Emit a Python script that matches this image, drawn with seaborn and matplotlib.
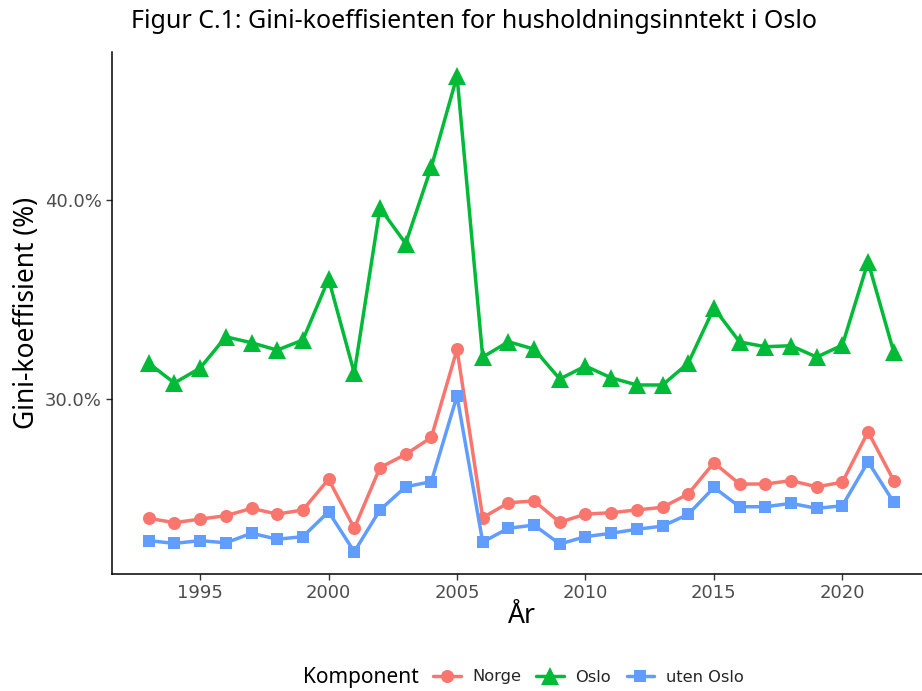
import matplotlib
matplotlib.use("Agg")
import matplotlib.pyplot as plt
import seaborn as sns
import pandas as pd
from matplotlib.lines import Line2D
from matplotlib.ticker import FuncFormatter

years = list(range(1993, 2023))
norge = [24.03, 23.81, 23.99, 24.16, 24.53, 24.24, 24.45, 25.99, 23.53, 26.57,
         27.24, 28.09, 32.51, 24.06, 24.81, 24.90, 23.83, 24.24, 24.31, 24.45,
         24.58, 25.25, 26.82, 25.75, 25.75, 25.92, 25.61, 25.84, 28.37, 25.92]
oslo = [31.81, 30.82, 31.57, 33.14, 32.84, 32.47, 32.98, 36.04, 31.32, 39.60,
        37.82, 41.66, 46.22, 32.12, 32.89, 32.52, 31.02, 31.67, 31.08, 30.72,
        30.72, 31.82, 34.58, 32.88, 32.64, 32.69, 32.12, 32.72, 36.90, 32.37]
uten_oslo = [22.91, 22.77, 22.91, 22.80, 23.28, 22.98, 23.11, 24.36, 22.35, 24.45,
             25.61, 25.87, 30.17, 22.84, 23.53, 23.69, 22.74, 23.11, 23.28, 23.48,
             23.64, 24.23, 25.58, 24.61, 24.61, 24.78, 24.53, 24.66, 26.87, 24.83]
components = ["Norge", "Oslo", "uten Oslo"]
x_ticks = [1995, 2000, 2005, 2010, 2015, 2020]
y_ticks = [30, 40]

df = pd.DataFrame({
    "År": years * 3,
    "Gini": norge + oslo + uten_oslo,
    "Komponent": ["Norge"] * len(years) + ["Oslo"] * len(years) + ["uten Oslo"] * len(years),
})

colors = {"Norge": "#F8766D", "Oslo": "#00BA38", "uten Oslo": "#619CFF"}
markers = {"Norge": "o", "Oslo": "^", "uten Oslo": "s"}
msizes = {"Norge": 9.4, "Oslo": 12.5, "uten Oslo": 8.6}

sns.set_style("white")
plt.rcParams["font.family"] = ["DejaVu Sans"]

W, H = 922, 691
fig = plt.figure(figsize=(W / 100, H / 100), dpi=100)
left, right, top, bottom = 111.5, 931, 52, 574
ax = fig.add_axes([left / W, 1 - bottom / H, (right - left) / W, (bottom - top) / H])

sns.lineplot(data=df, x="År", y="Gini", hue="Komponent", style="Komponent",
             hue_order=components, style_order=components,
             palette=colors, markers=markers, dashes=False,
             linewidth=2.5, markeredgewidth=0, ax=ax, legend=False)

for line, comp in zip(ax.lines, components):
    line.set_markersize(msizes[comp])
    line.set_markeredgewidth(0)

ax.set_xlim(1991.55, 2023.45)
ax.set_ylim(21.235, 47.43)
ax.set_xticks(x_ticks)
ax.set_yticks(y_ticks)
ax.yaxis.set_major_formatter(FuncFormatter(lambda v, p: f"{v:.1f}%"))
ax.set_xlabel("")
ax.set_ylabel("")
for s in ["top", "right"]:
    ax.spines[s].set_visible(False)
for s in ["left", "bottom"]:
    ax.spines[s].set_color("black")
    ax.spines[s].set_linewidth(1.1)
ax.tick_params(axis="both", which="major", length=4, width=1.0, color="#333333",
               labelsize=13, labelcolor="#4D4D4D", pad=3, direction="out",
               bottom=True, left=True)
ax.grid(False)

noto = ["Noto Sans", "DejaVu Sans"]
fig.text(473.5 / W, 1 - 21 / H, "Figur C.1: Gini-koeffisienten for husholdningsinntekt i Oslo",
         ha="center", va="center", fontsize=18, family=noto, color="black")
fig.text(522 / W, 1 - 616 / H, "År", ha="center", va="center", fontsize=19,
         family=noto, color="black")
fig.text(27 / W, 1 - 313 / H, "Gini-koeffisient (%)", ha="center", va="center",
         rotation=90, fontsize=19, family=noto, color="black")
fig.text(303 / W, 1 - 677 / H, "Komponent", ha="left", va="center", fontsize=15,
         family=noto, color="black")

handles = [Line2D([0], [0], color=colors[c], marker=markers[c], linewidth=2.5,
                  markersize=msizes[c], markeredgewidth=0) for c in components]
fig.legend(handles, components, loc="center left",
           bbox_to_anchor=(433 / W, 1 - 677 / H), ncol=3, frameon=False,
           fontsize=11.7, handlelength=1.7, handletextpad=0.7, columnspacing=0.95,
           borderpad=0, borderaxespad=0)

fig.savefig("out.png", dpi=100)
